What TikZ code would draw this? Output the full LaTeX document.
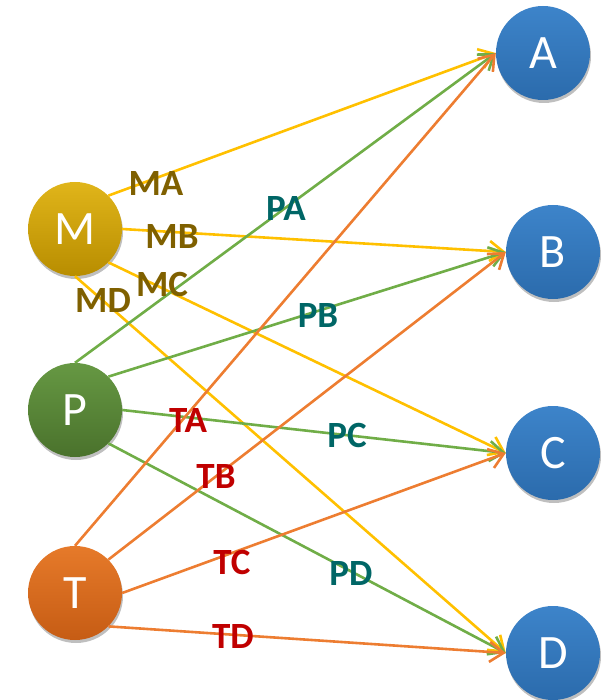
\documentclass[tikz,border=0pt]{standalone}
\usepackage{fontspec}
\setmainfont{Carlito}
\usetikzlibrary{arrows.meta,shadows}
\definecolor{Ycol}{HTML}{FFC000}
\definecolor{Gcol}{HTML}{70AD47}
\definecolor{Ocol}{HTML}{ED7D31}
\definecolor{Mtop}{HTML}{E0B51A}
\definecolor{Mbot}{HTML}{B88D00}
\definecolor{Ptop}{HTML}{669843}
\definecolor{Pbot}{HTML}{4A722C}
\definecolor{Ttop}{HTML}{E67A2A}
\definecolor{Tbot}{HTML}{C65C14}
\definecolor{Btop}{HTML}{3D84CA}
\definecolor{Bbot}{HTML}{2B6BAC}
\definecolor{Mlab}{HTML}{7F6000}
\definecolor{Plab}{HTML}{006666}
\definecolor{Tlab}{HTML}{C00000}
\begin{document}
\begin{tikzpicture}[x=1pt,y=-1pt,
  ball/.style={circle, minimum size=94pt, inner sep=0pt, text=white,
    font=\fontsize{48}{48}\selectfont,
    drop shadow={shadow xshift=1pt, shadow yshift=-3pt, opacity=0.25, fill=black}},
  mball/.style={ball, top color=Mtop, bottom color=Mbot},
  pball/.style={ball, top color=Ptop, bottom color=Pbot},
  tball/.style={ball, top color=Ttop, bottom color=Tbot},
  bball/.style={ball, top color=Btop, bottom color=Bbot},
  conn/.style={line width=2.6pt, -{Straight Barb[length=14pt,width=20pt]}},
  yedge/.style={conn, draw=Ycol},
  gedge/.style={conn, draw=Gcol},
  oedge/.style={conn, draw=Ocol},
  lab/.style={inner sep=0pt, font=\fontsize{37}{37}\selectfont\bfseries},
  mlab/.style={lab, text=Mlab},
  plab/.style={lab, text=Plab},
  tlab/.style={lab, text=Tlab}]
\useasboundingbox (0,0) rectangle (610,700);
% nodes (placed first for anchors)
\node[mball] (M) at (75,229) {M};
\node[pball] (P) at (75,410) {P};
\node[tball] (T) at (75,593) {T};
\node[bball] (A) at (543,53) {A};
\node[bball] (B) at (553,252) {B};
\node[bball] (C) at (553,453) {C};
\node[bball] (D) at (553,653) {D};
% edges
\draw[yedge] (M.north east) -- (A.west);
\draw[yedge] (M.east) -- (B.west);
\draw[yedge] (M.south east) -- (C.west);
\draw[yedge] (M.south) -- (D.west);
\draw[gedge] (P.north) -- (A.west);
\draw[gedge] (P.north east) -- (B.west);
\draw[gedge] (P.east) -- (C.west);
\draw[gedge] (P.south east) -- (D.west);
\draw[oedge] (T.north) -- (A.west);
\draw[oedge] (T.north east) -- (B.west);
\draw[oedge] (T.east) -- (C.west);
\draw[oedge] (T.south east) -- (D.west);
% labels
\node[mlab] (lMA) at (156,184) {MA};
\node[mlab] (lMB) at (172,237) {MB};
\node[mlab] (lMC) at (162,284) {MC};
\node[mlab] (lMD) at (103,301) {MD};
\node[plab] (lPA) at (286,209) {PA};
\node[plab] (lPB) at (318,316) {PB};
\node[plab] (lPC) at (347,435) {PC};
\node[plab] (lPD) at (351,573) {PD};
\node[tlab] (lTA) at (188,421) {TA};
\node[tlab] (lTB) at (216,476) {TB};
\node[tlab] (lTC) at (232,562) {TC};
\node[tlab] (lTD) at (233,636) {TD};
\end{tikzpicture}
\end{document}
